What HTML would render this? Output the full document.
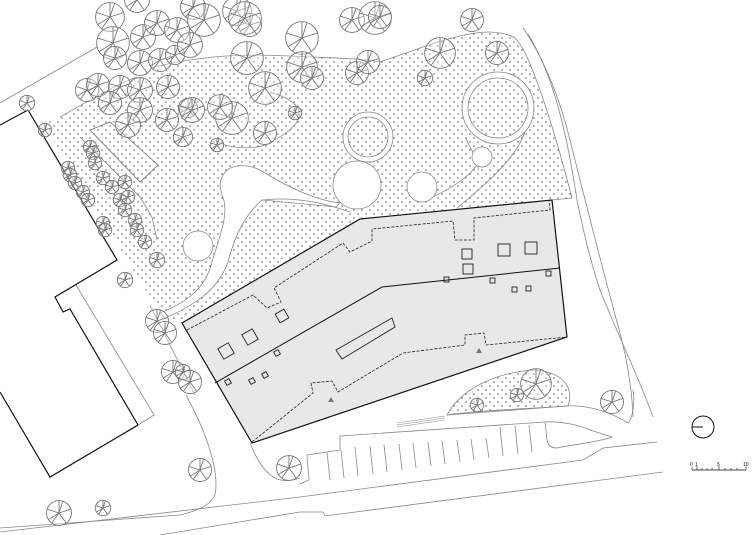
<!DOCTYPE html>
<html><head><meta charset="utf-8"><style>
html,body{margin:0;padding:0;background:#fff;}
svg{display:block;}
</style></head><body>
<svg width="752" height="535" viewBox="0 0 752 535" xmlns="http://www.w3.org/2000/svg">
<defs>
<pattern id="dots" width="8" height="8" patternUnits="userSpaceOnUse">
<circle cx="2" cy="2" r="0.75" fill="#555"/><circle cx="6" cy="6" r="0.75" fill="#555"/>
</pattern>
<symbol id="t" viewBox="-10 -10 20 20" overflow="visible">
<g fill="none" stroke="#777" stroke-width="0.9">
<circle r="9.6" fill="rgba(255,255,255,0.35)" vector-effect="non-scaling-stroke"/>
<path d="M0,0L0,-9.6M0,0L9.1,-3M0,0L5.6,7.8M0,0L-5.6,7.8M0,0L-9.1,-3M0,0L3,-9.1M0,0L-8,5" vector-effect="non-scaling-stroke"/>
</g>
</symbol>
</defs>

<path d="M42,122 L60,117 C90,100 115,85 137,77 L150,68 C190,60 230,55 290,56 C330,58 360,58 380,62 C400,55 415,50 423,47 C450,38 470,32 490,32 C505,33 512,35 517,40 C525,50 530,63 540,90 C553,127 562,160 572,198 L552,200 L360,218 L182,323 L160,313 Z" fill="url(#dots)" stroke="none"/>
<path d="M60,117 C90,100 115,85 137,77" fill="none" stroke="#888" stroke-width="0.8"/>
<path d="M150,68 C190,58 230,53 290,56 C330,58 360,58 380,62 C400,55 415,50 423,47 C450,38 470,32 490,32 C505,33 512,35 517,40 C525,50 530,63 540,90 C553,127 562,160 572,198" fill="none" stroke="#888" stroke-width="0.8"/>
<line x1="552" y1="200" x2="572" y2="198" stroke="#888" stroke-width="0.8"/>

<path d="M223,175 C230,163 250,163 265,173 C290,188 315,200 340,203 L336,207 L262,200 C245,215 235,235 228,262 C218,290 195,305 165,318 L160,313 C185,303 205,290 212,262 C220,235 230,212 222,195 C219,186 220,180 223,175 Z" fill="#fff" stroke="#888" stroke-width="0.8"/>
<circle cx="357" cy="185" r="24" fill="#fff" stroke="#888" stroke-width="0.8"/>
<circle cx="368" cy="137" r="25" fill="#fff" stroke="#888" stroke-width="0.8"/>
<circle cx="368" cy="137" r="20" fill="url(#dots)" stroke="#888" stroke-width="0.8"/>
<path d="M262,200 C300,196 330,205 350,212" fill="none" stroke="#888" stroke-width="0.8"/>

<path d="M430,198 C460,185 485,165 480,150" fill="none" stroke="#888" stroke-width="0.8"/>
<circle cx="498" cy="108" r="36" fill="#fff" stroke="#888" stroke-width="0.8"/>
<circle cx="498" cy="108" r="30" fill="url(#dots)" stroke="#888" stroke-width="0.8"/>
<path d="M525,132 C515,160 485,185 457,208" fill="none" stroke="#888" stroke-width="0.8"/>
<path d="M466,138 C470,150 480,160 478,170" fill="none" stroke="#888" stroke-width="0.8"/>
<circle cx="482" cy="157" r="10" fill="#fff" stroke="#888" stroke-width="0.8"/>
<circle cx="422" cy="187" r="15" fill="#fff" stroke="#888" stroke-width="0.8"/>
<circle cx="198" cy="246" r="15" fill="#fff" stroke="#888" stroke-width="0.8"/>

<path d="M215,140 C225,148 250,150 265,145 C285,135 300,125 300,112 C295,100 280,95 270,92" fill="none" stroke="#888" stroke-width="0.8"/>
<polygon points="90,130 110,122 158,165 140,182" fill="#fff" stroke="#888" stroke-width="0.8"/>
<polygon points="90,130 110,122 158,165 140,182" fill="url(#dots)" stroke="#888" stroke-width="0.8"/>
<path d="M80,137 L140,197 L152,217 L157,240" fill="none" stroke="#888" stroke-width="0.8"/>

<polyline points="0,125 28,110 117,260 55,297 63,312 70,309 138,425 50,477 0,392" fill="none" stroke="#111" stroke-width="1.2"/>
<polyline points="76,285 154,415 138,425" fill="none" stroke="#888" stroke-width="0.8"/>
<line x1="0" y1="103" x2="97" y2="47" stroke="#888" stroke-width="0.8"/>
<path d="M187,395 L187,397 C205,430 220,470 215,495 C210,505 200,510 180,515 L0,528" fill="none" stroke="#888" stroke-width="0.8"/>
<path d="M150,305 L195,395" fill="none" stroke="#888" stroke-width="0.8"/>
<path d="M250,443 C265,480 280,485 300,478" fill="none" stroke="#888" stroke-width="0.8"/>

<path d="M523,28 C545,60 560,100 570,140 C580,180 600,260 620,333 C627,360 632,390 633,417" fill="none" stroke="#888" stroke-width="0.8"/>
<path d="M528,34 C550,70 565,120 577,200 C583,230 590,260 600,290 C620,340 640,380 653,417" fill="none" stroke="#888" stroke-width="0.8"/>

<polygon points="182,323 360,219 552,200 567,337 252,443" fill="#e8e8e8" stroke="#111" stroke-width="1.2"/>
<polyline points="215,383 382,287 560,268" fill="none" stroke="#111" stroke-width="1"/>
<g fill="none" stroke="#222" stroke-width="0.8" stroke-dasharray="3,1.5">
<polyline points="187,330 253,295 267,308 281,302 274,288 343,243 350,252 372,241 372,229 453,221 455,240 474,240 474,218 550,210 549,200"/>
<polyline points="252,442 313,393 311,383 332,381 338,392 403,353 465,345 465,335 484,333 486,345 567,337"/>
</g>
<g fill="none" stroke="#222" stroke-width="0.9">
<rect x="-6" y="-6" width="12" height="12" transform="translate(226,351) rotate(-30)"/>
<rect x="-6" y="-6" width="12" height="12" transform="translate(250,337) rotate(-30)"/>
<rect x="-5" y="-5" width="10" height="10" transform="translate(282,316) rotate(-30)"/>
<rect x="462" y="249" width="10" height="10"/>
<rect x="463" y="264" width="10" height="10"/>
<rect x="498" y="244" width="12" height="12"/>
<rect x="525" y="242" width="12" height="12"/>
<rect x="546" y="271" width="5" height="5"/>
<rect x="444" y="277" width="5" height="5"/>
<rect x="490" y="278" width="5" height="5"/>
<rect x="512" y="287" width="5" height="5"/>
<rect x="526" y="286" width="5" height="5"/>
<rect x="-2.5" y="-2.5" width="5" height="5" transform="translate(277,353) rotate(-30)"/>
<rect x="-2.5" y="-2.5" width="5" height="5" transform="translate(228,382) rotate(-30)"/>
<rect x="-2.5" y="-2.5" width="5" height="5" transform="translate(252,381) rotate(-30)"/>
<rect x="-2.5" y="-2.5" width="5" height="5" transform="translate(265,375) rotate(-30)"/>
<polygon points="336,350 392,318 395,327 342,359"/>
</g>
<polygon points="476,353 479,348 482,353" fill="#777"/>
<polygon points="328,402 331,397 334,402" fill="#777"/>

<path d="M447,415 C460,390 495,372 535,370 C560,372 575,385 568,406 C540,408 480,410 447,415 Z" fill="url(#dots)" stroke="#888" stroke-width="0.8"/>
<path d="M447,415 L567,406 C590,405 610,412 628,423 C633,418 635,400 633,390" fill="none" stroke="#888" stroke-width="0.8"/>
<g stroke="#888" stroke-width="0.6"><line x1="397" y1="425" x2="445" y2="418"/><line x1="397" y1="427" x2="445" y2="420"/><line x1="397" y1="423" x2="445" y2="416"/></g>
<path d="M340,450 L340,436 L545,422 C560,421 580,425 590,430 L612,437 C600,442 570,445 557,448" fill="none" stroke="#888" stroke-width="0.8"/>
<path d="M545,422 L547,440 C548,446 552,448 557,448" fill="none" stroke="#888" stroke-width="0.8"/>
<path d="M307,455 L340,450" fill="none" stroke="#888" stroke-width="0.8"/>
<path d="M307,455 L309,480 L300,484" fill="none" stroke="#888" stroke-width="0.8"/>
<g stroke="#888" stroke-width="0.8">
<line x1="327" y1="452" x2="330" y2="480"/><line x1="341" y1="450" x2="344" y2="478"/><line x1="355" y1="447" x2="358" y2="476"/><line x1="370" y1="446" x2="373" y2="474"/><line x1="384" y1="445" x2="387" y2="472"/><line x1="399" y1="444" x2="402" y2="470"/><line x1="413" y1="443" x2="416" y2="468"/><line x1="428" y1="442" x2="431" y2="466"/><line x1="442" y1="441" x2="445" y2="464"/><line x1="457" y1="440" x2="460" y2="462"/><line x1="471" y1="439" x2="474" y2="460"/><line x1="486" y1="438" x2="489" y2="458"/><line x1="500" y1="427" x2="503" y2="456"/><line x1="515" y1="426" x2="518" y2="454"/><line x1="529" y1="425" x2="532" y2="452"/>
</g>
<path d="M300,497 L583,460 L603,448 L657,442" fill="none" stroke="#888" stroke-width="0.8"/>
<path d="M300,512 L323,512 L325,516 L663,472" fill="none" stroke="#888" stroke-width="0.8"/>
<path d="M0,532 L300,497" fill="none" stroke="#888" stroke-width="0.8"/>
<path d="M160,535 L300,512" fill="none" stroke="#888" stroke-width="0.8"/>

<g>
<use href="#t" x="95" y="2" width="30" height="30"/>
<use href="#t" x="96" y="26" width="34" height="34"/>
<use href="#t" x="103" y="46" width="24" height="24"/>
<use href="#t" x="130" y="24" width="26" height="26"/>
<use href="#t" x="144" y="10" width="26" height="26"/>
<use href="#t" x="164" y="17" width="26" height="26"/>
<use href="#t" x="124" y="-13" width="26" height="26"/>
<use href="#t" x="180" y="-6" width="26" height="26"/>
<use href="#t" x="127" y="50" width="26" height="26"/>
<use href="#t" x="148" y="48" width="24" height="24"/>
<use href="#t" x="165" y="45" width="20" height="20"/>
<use href="#t" x="75" y="78" width="24" height="24"/>
<use href="#t" x="86" y="73" width="24" height="24"/>
<use href="#t" x="108" y="75" width="24" height="24"/>
<use href="#t" x="127" y="77" width="26" height="26"/>
<use href="#t" x="156" y="75" width="24" height="24"/>
<use href="#t" x="98" y="91" width="24" height="24"/>
<use href="#t" x="127" y="97" width="26" height="26"/>
<use href="#t" x="115" y="112" width="26" height="26"/>
<use href="#t" x="155" y="108" width="24" height="24"/>
<use href="#t" x="178" y="98" width="20" height="20"/>
<use href="#t" x="187" y="3" width="34" height="34"/>
<use href="#t" x="177" y="32" width="26" height="26"/>
<use href="#t" x="222" y="-4" width="30" height="30"/>
<use href="#t" x="238" y="13" width="24" height="24"/>
<use href="#t" x="228" y="1" width="34" height="34"/>
<use href="#t" x="230" y="41" width="34" height="34"/>
<use href="#t" x="285" y="21" width="34" height="34"/>
<use href="#t" x="286" y="51" width="32" height="32"/>
<use href="#t" x="300" y="66" width="24" height="24"/>
<use href="#t" x="248" y="71" width="34" height="34"/>
<use href="#t" x="215" y="101" width="34" height="34"/>
<use href="#t" x="207" y="94" width="26" height="26"/>
<use href="#t" x="253" y="121" width="24" height="24"/>
<use href="#t" x="288" y="106" width="14" height="14"/>
<use href="#t" x="210" y="138" width="14" height="14"/>
<use href="#t" x="179" y="97" width="26" height="26"/>
<use href="#t" x="173" y="127" width="20" height="20"/>
<use href="#t" x="339" y="7" width="26" height="26"/>
<use href="#t" x="358" y="1" width="34" height="34"/>
<use href="#t" x="345" y="61" width="24" height="24"/>
<use href="#t" x="356" y="50" width="24" height="24"/>
<use href="#t" x="368" y="5" width="24" height="24"/>
<use href="#t" x="460" y="8" width="24" height="24"/>
<use href="#t" x="424" y="37" width="32" height="32"/>
<use href="#t" x="485" y="41" width="24" height="24"/>
<use href="#t" x="417" y="70" width="16" height="16"/>
<use href="#t" x="19" y="95" width="16" height="16"/>
<use href="#t" x="38" y="123" width="14" height="14"/>
<use href="#t" x="61" y="161" width="14" height="14"/>
<use href="#t" x="63" y="168" width="14" height="14"/>
<use href="#t" x="68" y="176" width="14" height="14"/>
<use href="#t" x="76" y="185" width="14" height="14"/>
<use href="#t" x="81" y="193" width="14" height="14"/>
<use href="#t" x="96" y="216" width="14" height="14"/>
<use href="#t" x="98" y="223" width="14" height="14"/>
<use href="#t" x="83" y="140" width="14" height="14"/>
<use href="#t" x="86" y="146" width="14" height="14"/>
<use href="#t" x="88" y="156" width="14" height="14"/>
<use href="#t" x="96" y="171" width="14" height="14"/>
<use href="#t" x="105" y="180" width="14" height="14"/>
<use href="#t" x="118" y="175" width="14" height="14"/>
<use href="#t" x="113" y="193" width="14" height="14"/>
<use href="#t" x="121" y="190" width="14" height="14"/>
<use href="#t" x="118" y="203" width="14" height="14"/>
<use href="#t" x="128" y="213" width="14" height="14"/>
<use href="#t" x="130" y="223" width="14" height="14"/>
<use href="#t" x="138" y="235" width="14" height="14"/>
<use href="#t" x="149" y="252" width="16" height="16"/>
<use href="#t" x="117" y="272" width="16" height="16"/>
<use href="#t" x="145" y="309" width="24" height="24"/>
<use href="#t" x="153" y="321" width="24" height="24"/>
<use href="#t" x="161" y="360" width="24" height="24"/>
<use href="#t" x="175" y="364" width="16" height="16"/>
<use href="#t" x="178" y="370" width="24" height="24"/>
<use href="#t" x="188" y="458" width="24" height="24"/>
<use href="#t" x="46" y="500" width="26" height="26"/>
<use href="#t" x="95" y="500" width="16" height="16"/>
<use href="#t" x="276" y="455" width="26" height="26"/>
<use href="#t" x="520" y="368" width="32" height="32"/>
<use href="#t" x="510" y="388" width="14" height="14"/>
<use href="#t" x="470" y="398" width="14" height="14"/>
<use href="#t" x="600" y="390" width="24" height="24"/>
</g>

<circle cx="703" cy="427" r="11" fill="none" stroke="#111" stroke-width="1"/>
<line x1="692" y1="427" x2="703" y2="427" stroke="#111" stroke-width="1"/>
<line x1="692" y1="470" x2="746" y2="470" stroke="#111" stroke-width="0.8"/>
<g stroke="#111" stroke-width="0.6">
<line x1="692" y1="467" x2="692" y2="470"/><line x1="697" y1="466" x2="697" y2="470"/><line x1="702" y1="468" x2="702" y2="470"/><line x1="707" y1="468" x2="707" y2="470"/><line x1="712" y1="468" x2="712" y2="470"/><line x1="719" y1="466" x2="719" y2="470"/><line x1="725" y1="468" x2="725" y2="470"/><line x1="731" y1="468" x2="731" y2="470"/><line x1="737" y1="468" x2="737" y2="470"/><line x1="746" y1="466" x2="746" y2="470"/>
</g>
<g font-family="Liberation Sans, sans-serif" font-size="5" fill="#111">
<text x="690" y="466">0</text><text x="695" y="466">1</text><text x="717" y="466">5</text><text x="743" y="466">10</text>
</g>
</svg>
</body></html>
